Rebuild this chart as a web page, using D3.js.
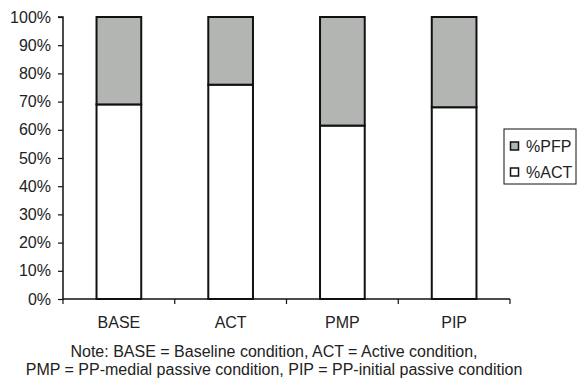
<!DOCTYPE html>
<html>
<head>
<meta charset="utf-8">
<script src="https://cdn.jsdelivr.net/npm/d3@7"></script>
<style>
  body { margin: 0; background: #fff; }
  text { font-family: "Liberation Sans", Arial, sans-serif; fill: #222; }
</style>
</head>
<body>
<div id="container"></div>
<script>
/* DATA */
const categories = ['BASE', 'ACT', 'PMP', 'PIP'];
const pctACT = [69, 76, 61.5, 68];
const pctPFP = [31, 24, 38.5, 32];
const yTicks = [0, 10, 20, 30, 40, 50, 60, 70, 80, 90, 100];
const seriesNames = ['%PFP', '%ACT'];
const noteLines = [
  'Note: BASE = Baseline condition, ACT = Active condition,',
  'PMP = PP-medial passive condition, PIP = PP-initial passive condition'
];

/* CONSTANTS */
const width = 577, height = 379;
const margin = { top: 17, bottom: 80, left: 63, right: 67 };
const colors = { '%PFP': '#b3b5b3', '%ACT': '#ffffff' };
const fontSize = 16;

const svg = d3.select('#container').append('svg')
  .attr('width', width)
  .attr('height', height);

/* SCALES */
const xScale = d3.scaleBand()
  .domain(categories)
  .range([margin.left, width - margin.right])
  .paddingInner(0.6)
  .paddingOuter(0.3);

const yScale = d3.scaleLinear()
  .domain([0, 100])
  .range([height - margin.bottom, margin.top]);

/* BARS */
const rows = categories.map((c, i) => ({ cat: c, act: pctACT[i], pfp: pctPFP[i] }));

const g = svg.append('g');
rows.forEach(d => {
  g.append('rect')
    .attr('x', xScale(d.cat))
    .attr('y', yScale(d.act))
    .attr('width', xScale.bandwidth())
    .attr('height', yScale(0) - yScale(d.act))
    .attr('fill', colors['%ACT'])
    .attr('stroke', '#111')
    .attr('stroke-width', 2);
  g.append('rect')
    .attr('x', xScale(d.cat))
    .attr('y', yScale(d.act + d.pfp))
    .attr('width', xScale.bandwidth())
    .attr('height', yScale(d.act) - yScale(d.act + d.pfp))
    .attr('fill', colors['%PFP'])
    .attr('stroke', '#111')
    .attr('stroke-width', 2);
});

/* AXES */
const yAxis = d3.axisLeft(yScale)
  .tickValues(yTicks)
  .tickFormat(d => d + '%')
  .tickSize(5)
  .tickPadding(7);

svg.append('g')
  .attr('transform', `translate(${margin.left},0)`)
  .call(yAxis)
  .call(a => a.select('.domain').attr('stroke', '#111').attr('stroke-width', 1.5).attr('d', `M-5,${yScale(100)}H0V${yScale(0)}`))
  .call(a => a.selectAll('.tick line').attr('stroke', '#111').attr('stroke-width', 1.2))
  .call(a => a.selectAll('.tick text').attr('font-size', fontSize).attr('fill', '#222')
    .style('font-family', '"Liberation Sans", Arial, sans-serif'));

// category boundaries for x ticks
const xEdges = d3.range(categories.length + 1).map(i => margin.left + i * (width - margin.right - margin.left) / categories.length);

const xAxisG = svg.append('g')
  .attr('transform', `translate(0,${yScale(0)})`);
xAxisG.append('line')
  .attr('x1', margin.left).attr('x2', width - margin.right)
  .attr('stroke', '#111').attr('stroke-width', 1.5);
xAxisG.selectAll('.xt').data(xEdges).join('line')
  .attr('x1', d => d).attr('x2', d => d)
  .attr('y1', 0).attr('y2', 5)
  .attr('stroke', '#111').attr('stroke-width', 1.2);
xAxisG.selectAll('.xl').data(categories).join('text')
  .attr('x', d => xScale(d) + xScale.bandwidth() / 2)
  .attr('y', 29)
  .attr('text-anchor', 'middle')
  .attr('font-size', fontSize)
  .text(d => d);

/* LEGEND */
const legend = svg.append('g').attr('transform', 'translate(504,129)');
legend.append('rect')
  .attr('x', 0).attr('y', 0)
  .attr('width', 72).attr('height', 55)
  .attr('fill', '#fff').attr('stroke', '#111').attr('stroke-width', 1);
seriesNames.forEach((s, i) => {
  legend.append('rect')
    .attr('x', 6.5).attr('y', 13 + i * 26)
    .attr('width', 8).attr('height', 8)
    .attr('fill', colors[s]).attr('stroke', '#111').attr('stroke-width', 1.5);
  legend.append('text')
    .attr('x', 22).attr('y', 23 + i * 26)
    .attr('font-size', fontSize)
    .text(s);
});

/* NOTE */
svg.selectAll('.note').data(noteLines).join('text')
  .attr('x', 274)
  .attr('y', (d, i) => 357 + i * 18)
  .attr('text-anchor', 'middle')
  .attr('font-size', fontSize)
  .text(d => d);
</script>
</body>
</html>
